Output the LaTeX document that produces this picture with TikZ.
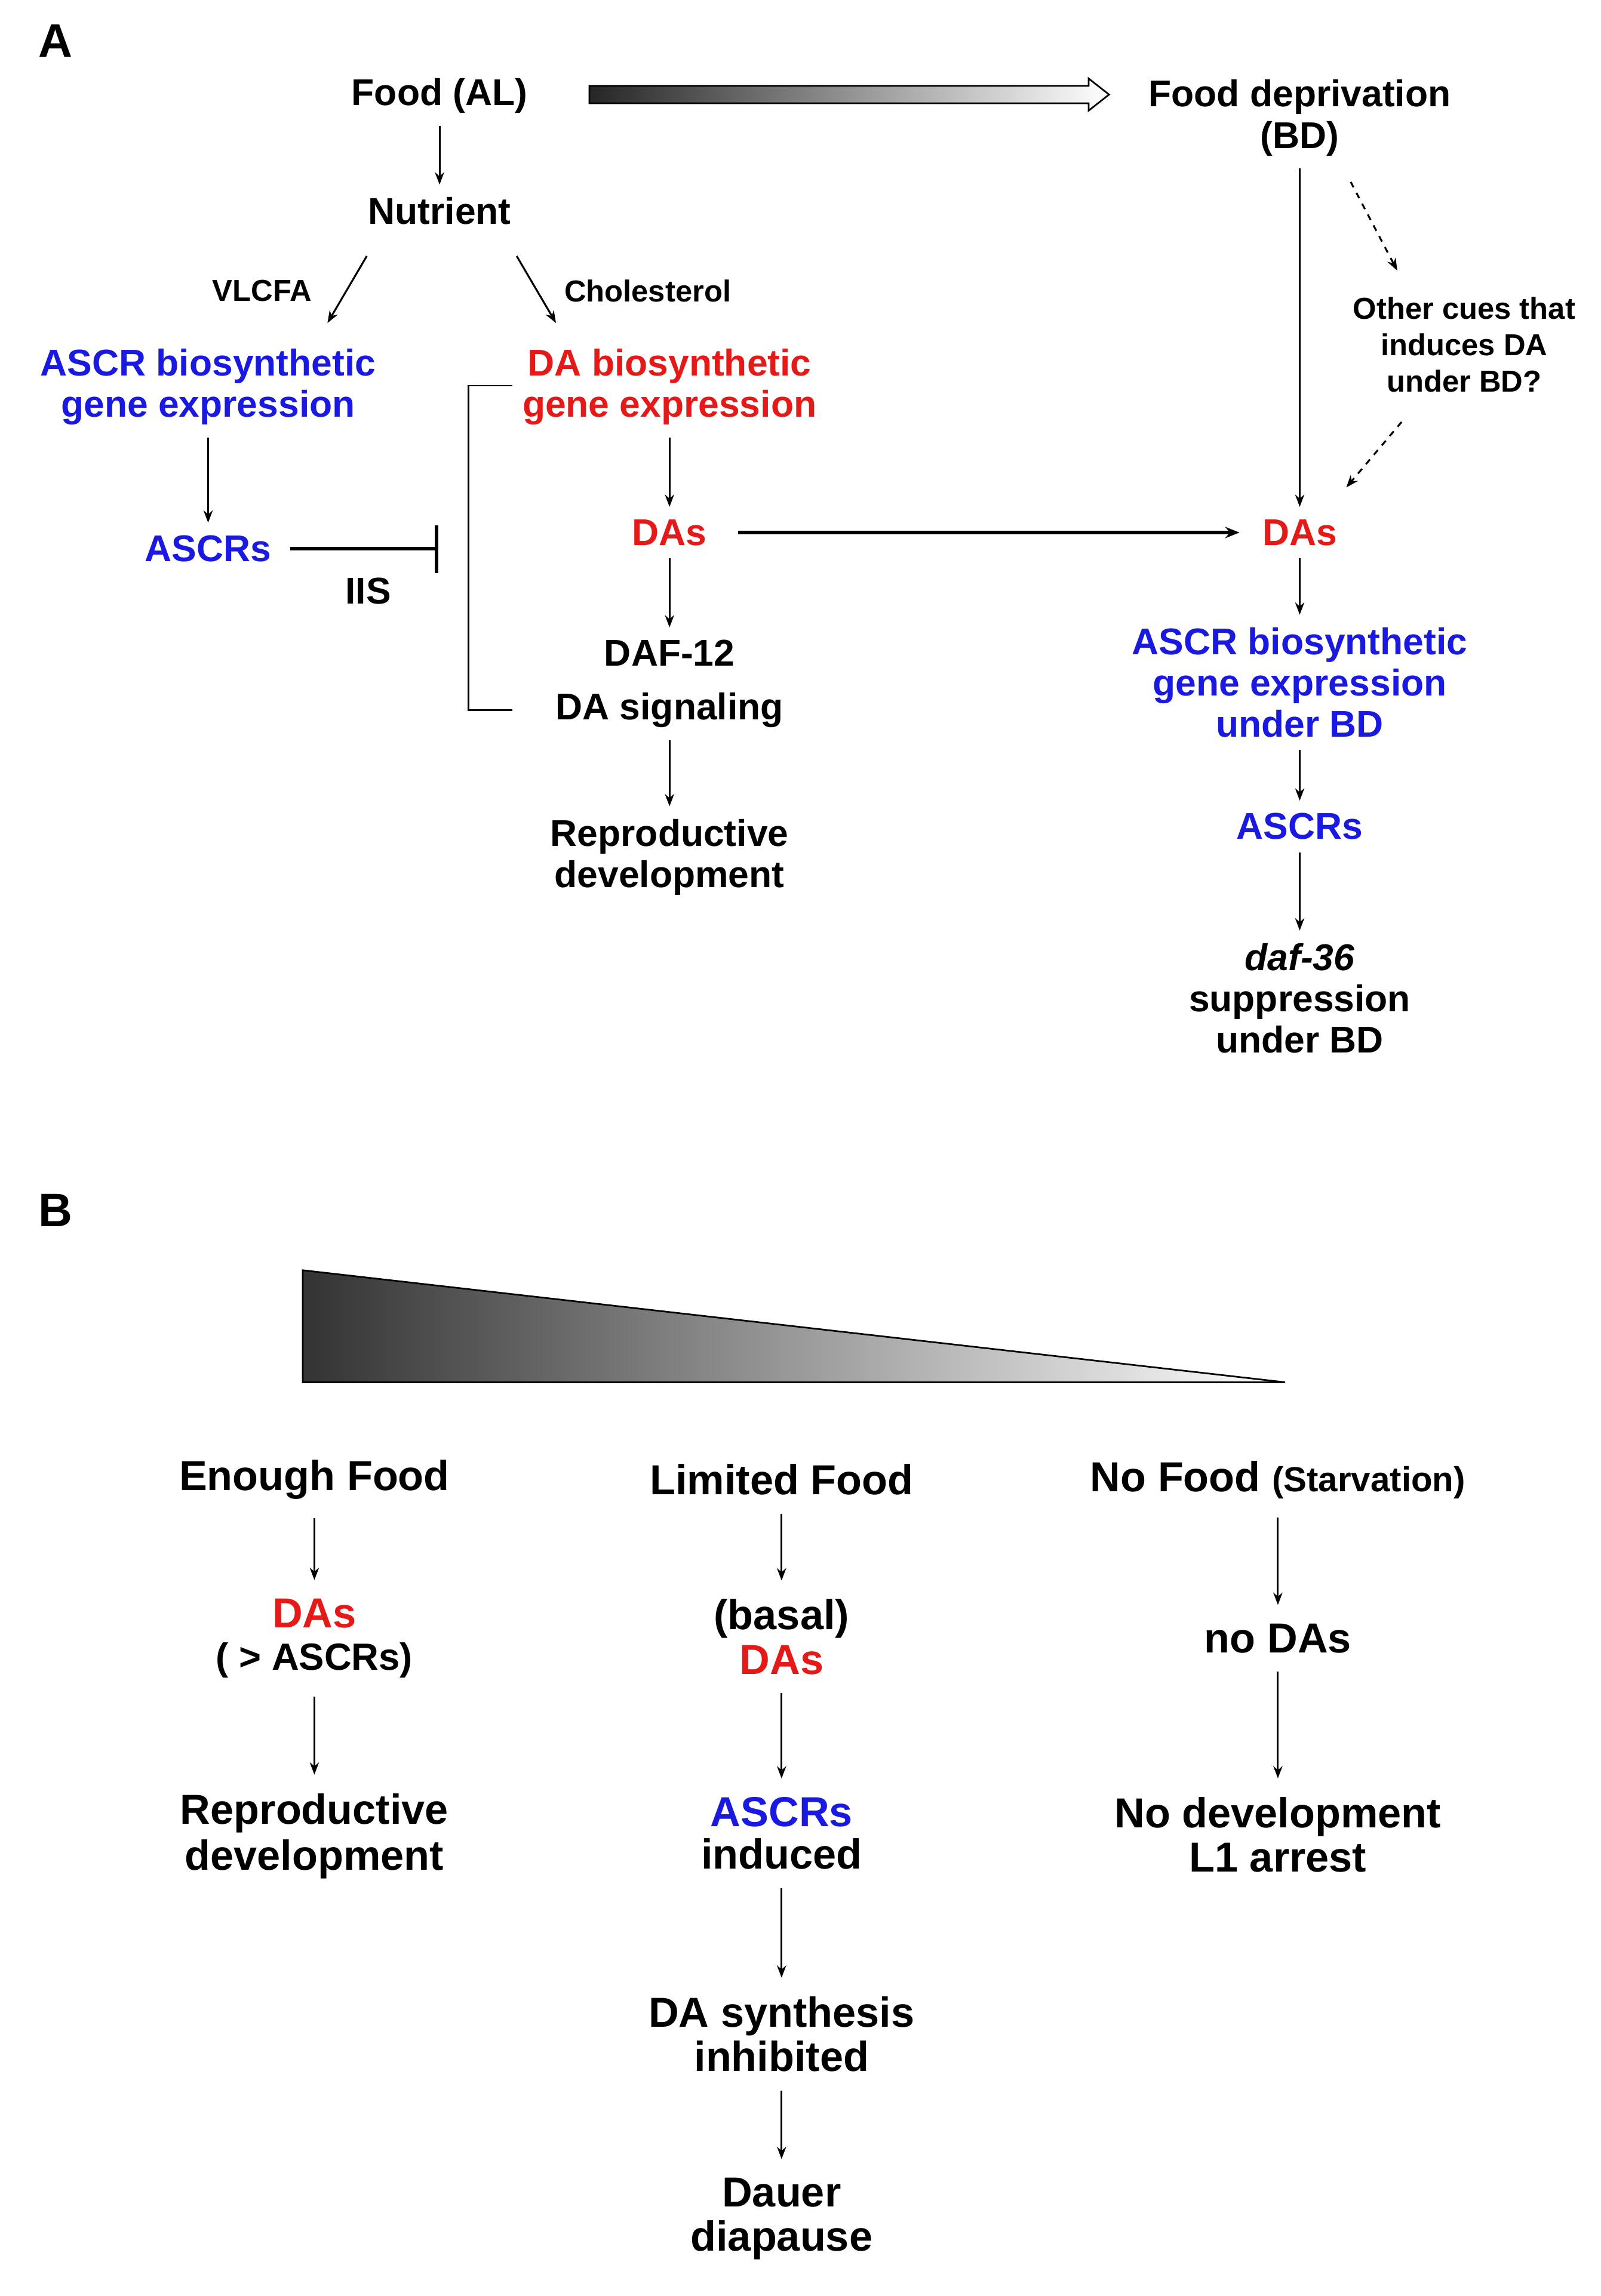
\documentclass[tikz,border=0pt]{standalone}
\usepackage{fontspec}
\setmainfont{Liberation Sans}
\usetikzlibrary{arrows.meta}
\definecolor{myblue}{RGB}{25,25,225}
\definecolor{myred}{RGB}{230,25,25}
\begin{document}
\begin{tikzpicture}[x=0.025cm,y=-0.025cm,
  t/.style={font=\fontsize{18.2}{20.2}\selectfont\bfseries,align=center,inner sep=1pt},
  tb/.style={font=\fontsize{20.5}{22.7}\selectfont\bfseries,align=center,inner sep=1pt},
  s/.style={font=\fontsize{14.8}{17.8}\selectfont\bfseries,align=center,inner sep=1pt},
  ar/.style={-{Stealth[length=6pt,width=4.5pt]},line width=0.9pt,shorten <=5pt,shorten >=5pt},
  ab/.style={ar,shorten <=8pt,shorten >=8pt},
  da/.style={ar,dashed},
  bl/.style={text=myblue},rd/.style={text=myred}]
\useasboundingbox (0,0) rectangle (1100,1578);
\node[font=\fontsize{23}{26}\selectfont\bfseries] (A) at (38,28) {A};
\node[font=\fontsize{23}{26}\selectfont\bfseries] (B) at (38,832) {B};
% Panel A
\node[t] (food) at (302,66) {Food (AL)};
\node[t] (nut) at (302,145) {Nutrient};
\node[t] (fd) at (893,81) {Food deprivation\\(BD)};
\shade[left color=black!85,right color=white,draw=black,line width=0.8pt]
  (405,59)--(748,59)--(748,54)--(762,65)--(748,76)--(748,71)--(405,71)--cycle;
\draw[ar] (food) -- (nut);
\node[s] (vl) at (180,200) {VLCFA};
\node[s] (ch) at (445,200) {Cholesterol};
\node[t,bl] (asb) at (143,266) {ASCR biosynthetic\\gene expression};
\node[t,rd] (dab) at (460,266) {DA biosynthetic\\gene expression};
\coordinate (n1) at (252,176); \coordinate (n2) at (225,222);
\coordinate (n3) at (355,176); \coordinate (n4) at (382,222);
\draw[ar,shorten <=0pt,shorten >=0pt] (n1) -- (n2);
\draw[ar,shorten <=0pt,shorten >=0pt] (n3) -- (n4);
\node[t,bl] (ascr1) at (143,377) {ASCRs};
\node[t] (iis) at (253,406) {IIS};
\coordinate (bar) at (300,377);
\draw[line width=1.8pt,shorten <=8pt] (ascr1) -- (bar);
\draw[line width=1.8pt] (300,361) -- (300,394);
\draw[line width=0.8pt] (352,265) -- (322,265) -- (322,488) -- (352,488);
\draw[ar] (asb) -- (ascr1);
\node[t,rd] (das1) at (460,366) {DAs};
\node[t] (daf) at (460,470) {DAF-12\\[6pt]DA signaling};
\node[t] (rep) at (460,589) {Reproductive\\development};
\draw[ar] (dab) -- (das1);
\draw[ar] (das1) -- (daf);
\draw[ar] (daf) -- (rep);
\node[t,rd] (das2) at (893,366) {DAs};
\draw[-{Stealth[length=7pt,width=5.5pt]},line width=1.8pt,shorten <=14pt,shorten >=10pt] (das1) -- (das2);
\draw[ar] (fd) -- (das2);
\node[s] (oc) at (1006,237) {Other cues that\\induces DA\\under BD?};
\coordinate (d1) at (928,125); \coordinate (d2) at (960,186);
\coordinate (d3) at (963,290); \coordinate (d4) at (925,335);
\draw[da,shorten <=0pt,shorten >=0pt] (d1) -- (d2);
\draw[da,shorten <=0pt,shorten >=0pt] (d3) -- (d4);
\node[t,bl] (asb2) at (893,469) {ASCR biosynthetic\\gene expression\\under BD};
\node[t,bl] (ascr2) at (893,568) {ASCRs};
\node[t] (sup) at (893,686) {\textit{daf-36}\\suppression\\under BD};
\draw[ar] (das2) -- (asb2);
\draw[ar] (asb2) -- (ascr2);
\draw[ar] (ascr2) -- (sup);
% Panel B
\shade[left color=black!80,right color=white,draw=black,line width=0.8pt]
  (208,873) -- (883,950) -- (208,950) -- cycle;
\node[tb] (ef) at (216,1017) {Enough Food};
\node[tb] (e2) at (216,1126) {\textcolor{myred}{DAs}\\[-2pt]{\fontsize{18.5}{20}\selectfont ( > ASCRs)}};
\node[tb] (e3) at (216,1262) {Reproductive\\development};
\draw[ab] (ef) -- (e2); \draw[ab] (e2) -- (e3);
\node[tb] (lf) at (537,1017) {Limited Food};
\node[tb] (l2) at (537,1125) {(basal)\\[-1pt]\textcolor{myred}{DAs}};
\node[tb] (l3) at (537,1260) {\textcolor{myblue}{ASCRs}\\[-2pt]induced};
\node[tb] (l4) at (537,1398) {DA synthesis\\[-1pt]inhibited};
\node[tb] (l5) at (537,1525) {Dauer\\[-1pt]diapause};
\draw[ab] (lf) -- (l2); \draw[ab] (l2) -- (l3); \draw[ab] (l3) -- (l4); \draw[ab] (l4) -- (l5);
\node[tb] (nf) at (878,1017) {No Food {\fontsize{17}{20}\selectfont (Starvation)}};
\node[tb] (n2b) at (878,1126) {no DAs};
\node[tb] (n3b) at (878,1261) {No development\\[-1pt]L1 arrest};
\draw[ab] (nf) -- (n2b); \draw[ab] (n2b) -- (n3b);
\end{tikzpicture}
\end{document}
